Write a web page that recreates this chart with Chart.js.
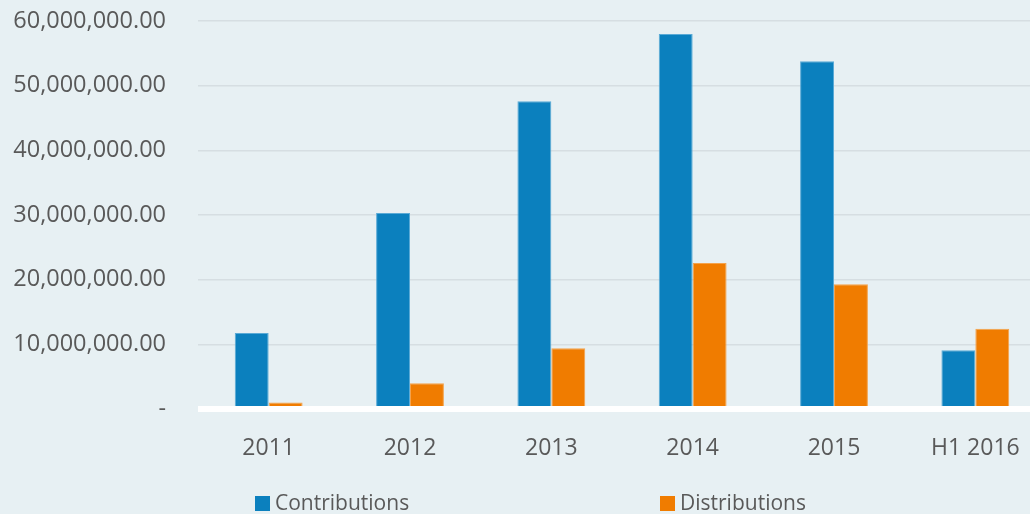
<!DOCTYPE html>
<html>
<head>
<meta charset="utf-8">
<script src="https://cdn.jsdelivr.net/npm/chart.js@4.4.0/dist/chart.umd.min.js"></script>
<style>
  body { margin: 0; background: #e7f0f3; }
  #wrap { position: relative; width: 1030px; height: 514px; overflow: hidden; }
  #myChart { position: absolute; left: 0; top: -25px; }
  #legend { position: absolute; top: 488px; left: 0; width: 1030px; height: 26px;
            font-family: "Open Sans", sans-serif; font-size: 21px; color: #595959; }
  .item { position: absolute; top: 0; white-space: nowrap; }
  .box { display: inline-block; width: 15px; height: 15px; margin-right: 5px; vertical-align: -1px; }
</style>
</head>
<body>
<div id="wrap">
  <canvas id="myChart" width="1046" height="539"></canvas>
  <div id="legend"></div>
</div>
<script>
const years = ['2011', '2012', '2013', '2014', '2015', 'H1 2016'];
const contributions = [11750000, 30300000, 47600000, 58000000, 53800000, 9100000];
const distributions = [1000000, 4000000, 9400000, 22600000, 19300000, 12400000];
const seriesNames = ['Contributions', 'Distributions'];
const warna = ['#0b80be', '#f07c00'];

// garis putih di nol, digambar di atas batang
const garisNol = {
    id: 'garisNol',
    afterDatasetsDraw(chart) {
        const ctx = chart.ctx;
        const y = chart.scales.y.getPixelForValue(0);
        ctx.save();
        ctx.strokeStyle = '#ffffff';
        ctx.lineWidth = 6;
        ctx.beginPath();
        ctx.moveTo(chart.chartArea.left, y);
        ctx.lineTo(chart.chartArea.right, y);
        ctx.stroke();
        ctx.restore();
    }
};

const ctx = document.getElementById('myChart').getContext('2d');
const chart = new Chart(ctx, {
    type: 'bar',
    data: {
        labels: years,
        datasets: [{
            label: seriesNames[0],
            data: contributions,
            backgroundColor: warna[0],
            borderColor: '#5aaad6',
            borderWidth: 1
        }, {
            label: seriesNames[1],
            data: distributions,
            backgroundColor: warna[1],
            borderColor: '#f5a24a',
            borderWidth: 1
        }]
    },
    options: {
        responsive: false,
        animation: false,
        layout: { padding: { top: 0, bottom: 45, right: 0, left: 0 } },
        datasets: {
            bar: { categoryPercentage: 0.48, barPercentage: 1 }
        },
        plugins: {
            legend: { display: false },
            tooltip: { enabled: false }
        },
        scales: {
            x: {
                grid: { display: false },
                border: { display: false },
                ticks: {
                    color: '#595959',
                    font: { family: 'Open Sans', size: 23 },
                    padding: 18
                },
                afterFit(scale) { scale.height = 60; }
            },
            y: {
                min: 0,
                max: 60000000,
                grid: { color: '#d6dee2', lineWidth: 1.5, drawTicks: false },
                border: { display: false },
                ticks: {
                    stepSize: 10000000,
                    color: '#595959',
                    font: { family: 'Open Sans', size: 23.5 },
                    padding: 32,
                    callback: function (v) {
                        if (v === 0) return '-';
                        return v.toLocaleString('en-US', { minimumFractionDigits: 2, maximumFractionDigits: 2 });
                    }
                },
                afterFit(scale) { scale.width = 198; }
            }
        }
    },
    plugins: [garisNol]
});

// legenda HTML
const legendPos = [255, 660];
const legend = document.getElementById('legend');
seriesNames.forEach(function (nama, i) {
    const el = document.createElement('div');
    el.className = 'item';
    el.style.left = legendPos[i] + 'px';
    el.innerHTML = '<span class="box" style="background:' + warna[i] + '"></span>' + nama;
    legend.appendChild(el);
});
</script>
</body>
</html>
